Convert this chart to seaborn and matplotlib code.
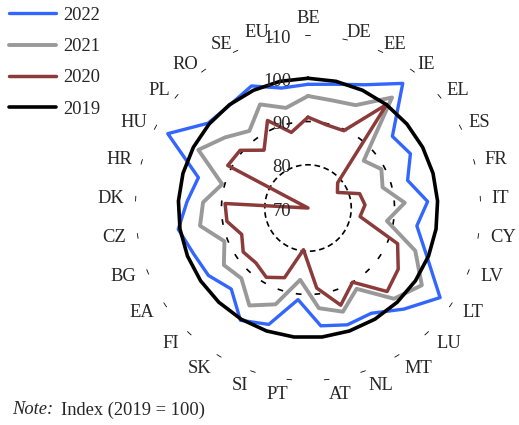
import numpy as np
import pandas as pd
import matplotlib
matplotlib.use("Agg")
import matplotlib.pyplot as plt
import seaborn as sns

# values (index, 2019 = 100)
categories = ["BE", "DE", "EE", "IE", "EL", "ES", "FR", "IT", "CY", "LV",
              "LT", "LU", "MT", "NL", "AT", "PT", "SI", "SK", "FI", "EA",
              "BG", "CZ", "DK", "HR", "HU", "PL", "RO", "SE", "EU"]

y2022 = [98.6, 99.3, 101.4, 106.2, 95.6, 96.8, 93.9, 97.7, 95.5, 99.5,
         106.9, 102.2, 98.4, 98.5, 97.4, 91.3, 98.4, 100.3, 95.8, 97.8,
         98.5, 100.4, 98.0, 96.3, 106.7, 100.3, 99.9, 101.1, 98.4]
y2021 = [95.9, 95.5, 96.2, 102.1, 86.9, 89.2, 87.9, 92.4, 88.5, 96.7,
         101.8, 98.9, 91.8, 95.3, 93.3, 86.7, 93.5, 96.3, 92.4, 93.5,
         90.8, 95.3, 94.3, 90.6, 98.7, 95.2, 92.4, 96.4, 93.7]
y2020 = [91.0, 89.7, 89.7, 100.1, 79.0, 77.7, 82.4, 83.2, 82.2, 92.3,
         95.2, 96.6, 90.0, 93.7, 88.6, 79.7, 87.0, 88.7, 87.5, 88.1,
         86.5, 89.0, 89.2, 70.0, 91.0, 90.6, 86.8, 92.3, 87.9]
y2019 = [100.0] * len(categories)

years = ["2022", "2021", "2020", "2019"]
colors = ["#3366ff", "#999999", "#8c3b3b", "black"]
widths = [2.4, 2.8, 2.5, 2.6]
radial_ticks = [70, 80, 90, 100, 110]

sns.set_theme(style="white")
plt.rcParams["font.family"] = ["Liberation Serif", "DejaVu Serif"]
plt.rcParams["font.size"] = 13.3
plt.rcParams["legend.fontsize"] = 13.3

n = len(categories)
theta = np.arange(n) * 2 * np.pi / n

rows = []
for year, vals in zip(years, [y2022, y2021, y2020, y2019]):
    for t, v in zip(np.append(theta, 2 * np.pi), vals + vals[:1]):
        rows.append({"year": year, "theta": t, "value": v})
df = pd.DataFrame(rows)

fig = plt.figure(figsize=(5.19, 4.25), dpi=100)
ax = fig.add_axes([0.2601, 0.1035, 0.6667, 0.8141], projection="polar")
ax.set_theta_zero_location("N")
ax.set_theta_direction(-1)

for year, col, lw in zip(years, colors, widths):
    sns.lineplot(data=df[df["year"] == year], x="theta", y="value",
                 color=col, linewidth=lw, sort=False, estimator=None,
                 ax=ax, zorder=3)
handles = list(ax.get_lines())

ax.set_ylim(70, 110)
ax.set_xticks([])
ax.set_yticks([])
ax.grid(False)
ax.spines["polar"].set_visible(False)
ax.set_xlabel("")
ax.set_ylabel("")

# dashed rings: one short dash per category
for r, half in [(80, 0.065), (90, 0.033), (110, 0.016)]:
    for t in theta:
        tt = np.linspace(t - half, t + half, 8)
        ax.plot(tt, np.full_like(tt, r), color="black", lw=1.2, zorder=1,
                solid_capstyle="butt")

for v in radial_ticks:
    ax.annotate(str(v), xy=(0, v), xytext=(-17, -3), textcoords="offset pixels",
                ha="right", va="center", annotation_clip=False)

px_per_unit = 173 / 40
for t, lab in zip(theta, categories):
    s, c = np.sin(t), np.cos(t)
    if abs(s) < 0.05:
        ha = "center"
    elif s > 0:
        ha = "left"
    else:
        ha = "right"
    rpx, va = 184 - 4 * c, "center"
    if abs(s) < 0.01 and c > 0:
        rpx, va = 185, "baseline"
    ax.text(t, 70 + rpx / px_per_unit, lab, ha=ha, va=va)

fig.legend(handles, years, loc="upper left", bbox_to_anchor=(0.005, 1.0),
           frameon=False, handlelength=2.55, handletextpad=0.35,
           labelspacing=0.78, borderpad=0.36, borderaxespad=0)

fig.text(12 / 519, 1 - 410 / 425, "Note:", style="italic", va="center")
fig.text(61 / 519, 1 - 410 / 425, "Index (2019 = 100)", va="center")

fig.savefig("out.png", dpi=100)
